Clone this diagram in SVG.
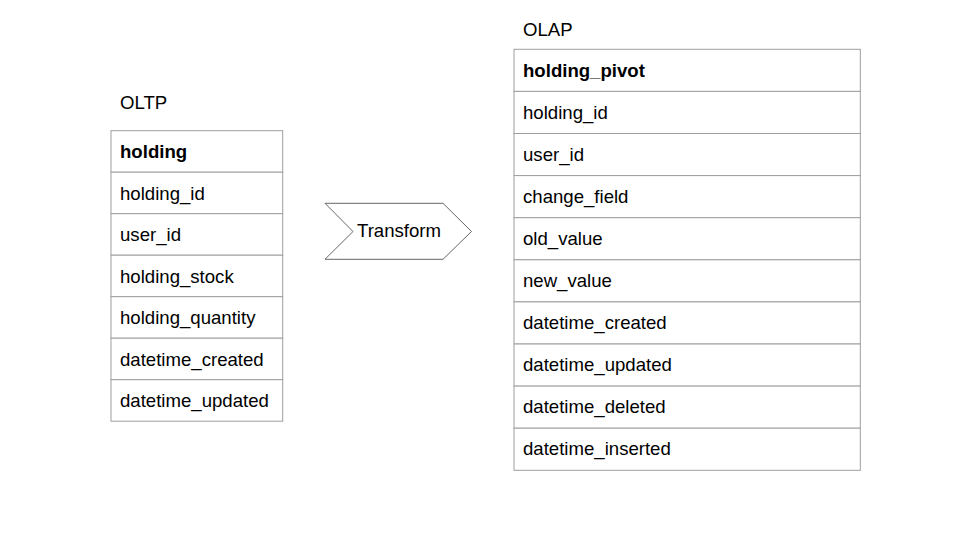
<svg xmlns="http://www.w3.org/2000/svg" width="960" height="540" viewBox="0 0 960 540">
<style>
text{font-family:"Liberation Sans",Arial,sans-serif;font-size:18.6px;fill:#000}
.b{font-weight:bold}
.cell{fill:#fff;stroke:#9e9e9e;stroke-width:1}
.arrow{fill:#fff;stroke:#666;stroke-width:1}
</style>
<rect width="960" height="540" fill="#fff"/>
<text x="120" y="109">OLTP</text>
<text x="523" y="36">OLAP</text>
<g id="oltp-holding">
<rect class="cell" x="111" y="130.7" width="171.7" height="41.5"/>
<rect class="cell" x="111" y="172.2" width="171.7" height="41.5"/>
<rect class="cell" x="111" y="213.7" width="171.7" height="41.5"/>
<rect class="cell" x="111" y="255.2" width="171.7" height="41.5"/>
<rect class="cell" x="111" y="296.7" width="171.7" height="41.5"/>
<rect class="cell" x="111" y="338.2" width="171.7" height="41.5"/>
<rect class="cell" x="111" y="379.7" width="171.7" height="41.5"/>
<text class="b" x="120" y="158">holding</text>
<text x="120" y="199.5">holding_id</text>
<text x="120" y="241">user_id</text>
<text x="120" y="282.5">holding_stock</text>
<text x="120" y="324">holding_quantity</text>
<text x="120" y="365.5">datetime_created</text>
<text x="120" y="407">datetime_updated</text>
</g>
<g id="transform">
<polygon class="arrow" points="325,203.3 443,203.3 471.5,231.5 443,259.3 325,259.3 353,231.5"/>
<text x="399" y="237" text-anchor="middle">Transform</text>
</g>
<g id="olap-holding_pivot">
<rect class="cell" x="514" y="49.3" width="346.3" height="42.1"/>
<rect class="cell" x="514" y="91.4" width="346.3" height="42.1"/>
<rect class="cell" x="514" y="133.5" width="346.3" height="42.1"/>
<rect class="cell" x="514" y="175.6" width="346.3" height="42.1"/>
<rect class="cell" x="514" y="217.7" width="346.3" height="42.1"/>
<rect class="cell" x="514" y="259.8" width="346.3" height="42.1"/>
<rect class="cell" x="514" y="301.9" width="346.3" height="42.1"/>
<rect class="cell" x="514" y="344" width="346.3" height="42.1"/>
<rect class="cell" x="514" y="386.1" width="346.3" height="42.1"/>
<rect class="cell" x="514" y="428.2" width="346.3" height="42.1"/>
<text class="b" x="523" y="77">holding_pivot</text>
<text x="523" y="119">holding_id</text>
<text x="523" y="161">user_id</text>
<text x="523" y="203">change_field</text>
<text x="523" y="245">old_value</text>
<text x="523" y="287">new_value</text>
<text x="523" y="329">datetime_created</text>
<text x="523" y="371">datetime_updated</text>
<text x="523" y="413">datetime_deleted</text>
<text x="523" y="455">datetime_inserted</text>
</g>
</svg>
